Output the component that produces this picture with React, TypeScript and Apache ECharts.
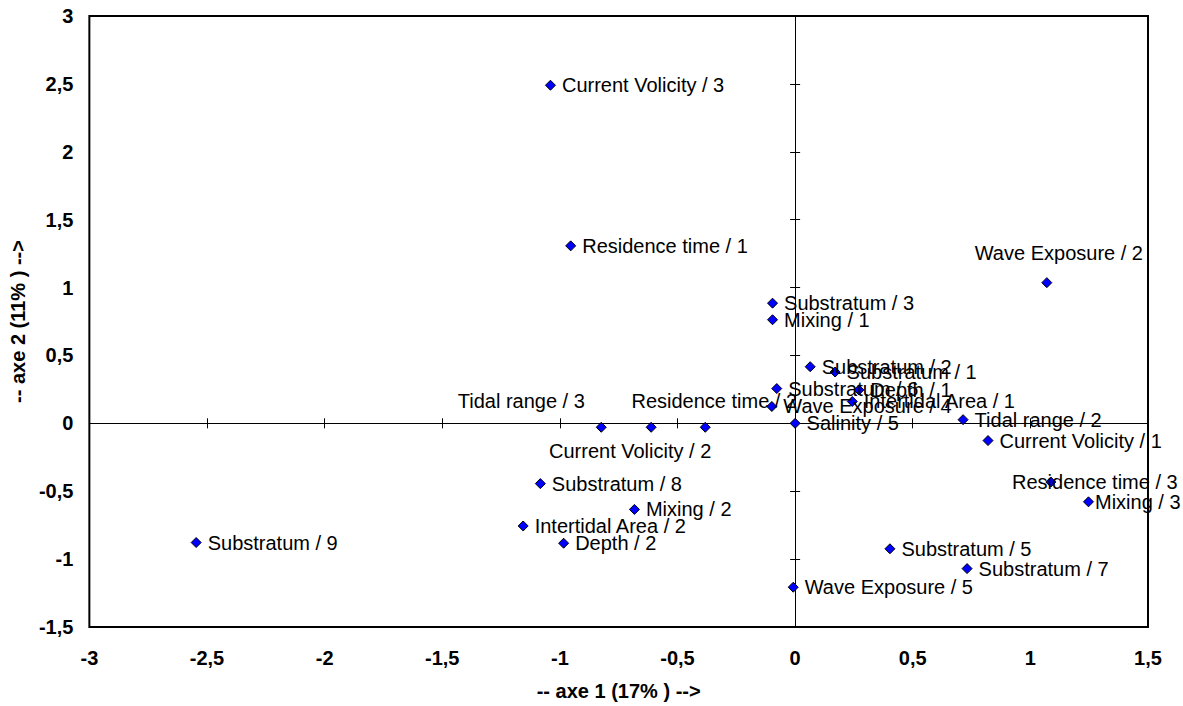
import React, { useEffect, useRef } from "react";
import * as echarts from "echarts";

const pointNames = [
  "Current Volicity / 3", "Residence time / 1", "Wave Exposure / 2", "Substratum / 3",
  "Mixing / 1", "Substratum / 2", "Substratum / 1", "Substratum / 6", "Depth / 1",
  "Intertidal Area / 1", "Wave Exposure / 4", "Tidal range / 3", "Current Volicity / 2",
  "Residence time / 2", "Salinity / 5", "Tidal range / 2", "Current Volicity / 1",
  "Residence time / 3", "Mixing / 3", "Substratum / 5", "Substratum / 7",
  "Wave Exposure / 5", "Substratum / 8", "Mixing / 2", "Intertidal Area / 2",
  "Depth / 2", "Substratum / 9",
];
const axis1Values = [
  -1.04, -0.954, 1.07, -0.096, -0.096, 0.064, 0.17, -0.078, 0.271, 0.243, -0.099,
  -0.824, -0.612, -0.382, 0.0, 0.714, 0.82, 1.087, 1.247, 0.403, 0.731, -0.008,
  -1.083, -0.683, -1.156, -0.984, -2.546,
];
const axis2Values = [
  2.49, 1.307, 1.036, 0.885, 0.763, 0.417, 0.378, 0.256, 0.246, 0.161, 0.124,
  -0.029, -0.029, -0.029, 0.0, 0.027, -0.127, -0.432, -0.578, -0.924, -1.07, -1.207,
  -0.444, -0.634, -0.756, -0.883, -0.878,
];
const xTitle = "-- axe 1 (17% ) -->";
const yTitle = "-- axe 2 (11% ) -->";

// label placement (style only)
const labelPlacement: Record<string, any> = {
  "Wave Exposure / 2": { position: "top", distance: 5, offset: [12, -9] },
  "Residence time / 3": { position: "inside", offset: [44, 0] },
  "Mixing / 3": { position: "right", distance: 1 },
  "Tidal range / 3": { position: "inside", offset: [-80, -26] },
  "Current Volicity / 2": { position: "inside", offset: [-21, 24] },
  "Residence time / 2": { position: "inside", offset: [9, -26] },
};

const FONT = "'Liberation Sans', Arial, sans-serif";
const FS = 20;
const fmt = (v: number) => String(v).replace(".", ",");

export default function App() {
  const ref = useRef<HTMLDivElement>(null);
  useEffect(() => {
    document.body.style.margin = "0";
    document.body.style.overflow = "hidden";
    const chart = echarts.init(ref.current!, null, { renderer: "svg" });
    const tickLabel = { color: "#000", fontWeight: "bold", fontSize: FS, fontFamily: FONT, formatter: fmt };
    const zeroAxisX = (inside: boolean) => ({
      type: "value", min: -3, max: 1.5, interval: 0.5, position: "bottom",
      axisLine: { show: true, onZero: true, lineStyle: { color: "#000", width: 1 } },
      axisTick: { show: true, inside, length: 5, lineStyle: { color: "#000", width: 1 } },
      axisLabel: { show: false }, splitLine: { show: false },
    });
    const zeroAxisY = (inside: boolean) => ({
      type: "value", min: -1.5, max: 3, interval: 0.5, position: "left",
      axisLine: { show: true, onZero: true, lineStyle: { color: "#000", width: 1 } },
      axisTick: { show: true, inside, length: 5, lineStyle: { color: "#000", width: 1 } },
      axisLabel: { show: false }, splitLine: { show: false },
    });
    const data = pointNames.map((n, i) => {
      const p = labelPlacement[n] || { position: "right", distance: 6 };
      return { name: n, value: [axis1Values[i], axis2Values[i]], label: { show: true, ...p } };
    });
    chart.setOption({
      animation: false,
      grid: { left: 87, right: 35, top: 16, bottom: 75, show: true, borderColor: "#000", borderWidth: 2 },
      xAxis: [
        {
          type: "value", min: -3, max: 1.5, interval: 0.5, position: "bottom",
          axisLine: { show: false, onZero: false }, axisTick: { show: false }, splitLine: { show: false },
          axisLabel: { ...tickLabel, margin: 21 },
          name: xTitle, nameLocation: "middle", nameGap: 54,
          nameTextStyle: { color: "#000", fontWeight: "bold", fontSize: FS, fontFamily: FONT },
        },
        zeroAxisX(false),
        zeroAxisX(true),
      ],
      yAxis: [
        {
          type: "value", min: -1.5, max: 3, interval: 0.5, position: "left",
          axisLine: { show: false, onZero: false }, axisTick: { show: false }, splitLine: { show: false },
          axisLabel: { ...tickLabel, margin: 16 },
          name: yTitle, nameLocation: "middle", nameGap: 56, nameRotate: 90,
          nameTextStyle: { color: "#000", fontWeight: "bold", fontSize: FS, fontFamily: FONT },
        },
        zeroAxisY(false),
        zeroAxisY(true),
      ],
      series: [
        {
          type: "scatter", xAxisIndex: 0, yAxisIndex: 0,
          symbol: "diamond", symbolSize: 10,
          itemStyle: { color: "#0000ff", borderColor: "#000", borderWidth: 1, opacity: 1 },
          label: { color: "#000", fontSize: FS, fontFamily: FONT, formatter: (p: any) => p.name },
          emphasis: { disabled: true },
          data,
        },
      ],
    });
    return () => chart.dispose();
  }, []);
  return <div ref={ref} style={{ width: 1183, height: 706, overflow: "hidden" }} />;
}
